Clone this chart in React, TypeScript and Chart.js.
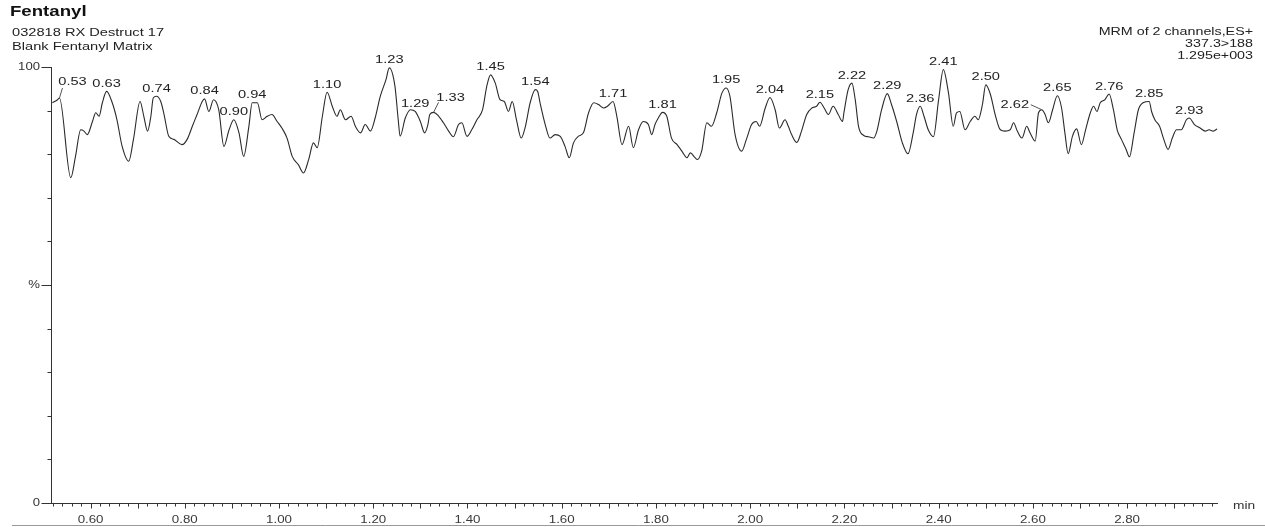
import { useEffect, useRef } from "react";
import { Chart, registerables } from "chart.js";

Chart.register(...registerables);

// Retention time (min) of each sampled point of the MRM trace
const retentionTimes: number[] = [
  0.519, 0.530, 0.534, 0.558, 0.568, 0.579, 0.586, 0.593, 0.604, 0.611, 0.618, 0.625, 0.634, 0.646, 0.656, 0.667,
  0.681, 0.691, 0.705, 0.713, 0.721, 0.728, 0.733, 0.740, 0.749, 0.756, 0.766, 0.777, 0.794, 0.805, 0.816, 0.826,
  0.837, 0.842, 0.851, 0.861, 0.872, 0.883, 0.894, 0.904, 0.915, 0.925, 0.936, 0.943, 0.954, 0.964, 0.975, 0.985,
  0.996, 1.006, 1.017, 1.028, 1.041, 1.052, 1.063, 1.073, 1.081, 1.092, 1.102, 1.113, 1.123, 1.130, 1.141, 1.153,
  1.162, 1.173, 1.183, 1.194, 1.204, 1.215, 1.227, 1.234, 1.246, 1.253, 1.257, 1.268, 1.279, 1.289, 1.300, 1.309,
  1.316, 1.320, 1.328, 1.339, 1.349, 1.360, 1.370, 1.381, 1.388, 1.399, 1.409, 1.420, 1.432, 1.441, 1.449, 1.459,
  1.469, 1.478, 1.487, 1.495, 1.504, 1.514, 1.523, 1.533, 1.544, 1.549, 1.554, 1.565, 1.575, 1.586, 1.597, 1.607,
  1.616, 1.625, 1.635, 1.646, 1.657, 1.668, 1.678, 1.689, 1.697, 1.709, 1.717, 1.728, 1.742, 1.752, 1.763, 1.773,
  1.784, 1.791, 1.798, 1.805, 1.814, 1.823, 1.833, 1.845, 1.855, 1.866, 1.873, 1.883, 1.888, 1.897, 1.908, 1.918,
  1.929, 1.940, 1.949, 1.957, 1.968, 1.982, 1.992, 2.003, 2.013, 2.020, 2.032, 2.042, 2.053, 2.062, 2.074, 2.081,
  2.088, 2.099, 2.109, 2.120, 2.131, 2.141, 2.148, 2.157, 2.166, 2.176, 2.187, 2.196, 2.199, 2.208, 2.216, 2.223,
  2.230, 2.241, 2.251, 2.262, 2.269, 2.279, 2.291, 2.300, 2.311, 2.323, 2.335, 2.346, 2.353, 2.361, 2.369, 2.378,
  2.389, 2.400, 2.410, 2.421, 2.431, 2.438, 2.445, 2.456, 2.467, 2.477, 2.484, 2.493, 2.500, 2.510, 2.520, 2.531,
  2.541, 2.552, 2.559, 2.567, 2.577, 2.587, 2.594, 2.605, 2.612, 2.619, 2.626, 2.633, 2.642, 2.652, 2.661, 2.668,
  2.675, 2.684, 2.693, 2.703, 2.712, 2.722, 2.729, 2.736, 2.743, 2.753, 2.762, 2.771, 2.779, 2.788, 2.798, 2.805,
  2.815, 2.824, 2.834, 2.847, 2.852, 2.859, 2.869, 2.878, 2.887, 2.896, 2.905, 2.915, 2.926, 2.932, 2.943, 2.955,
  2.966, 2.974, 2.983, 2.991,
];

// Relative intensity (%) at each retention time
const intensityPct: number[] = [
  91.8, 92.5, 92.9, 74.6, 79.5, 85.6, 85.3, 84.5, 87.5, 89.5, 88.7, 91.8, 94.4, 91.8, 87.9, 81.8,
  78.4, 83.4, 92.1, 88.7, 85.3, 88.7, 92.9, 93.3, 92.1, 89.1, 84.1, 83.4, 82.2, 83.4, 86.4, 89.1,
  92.1, 92.7, 89.8, 92.5, 90.2, 81.8, 85.6, 87.9, 84.9, 79.5, 86.4, 91.8, 91.8, 87.9, 88.7, 89.1,
  87.5, 86.0, 83.7, 79.5, 77.6, 75.7, 78.8, 82.6, 81.5, 88.7, 94.2, 91.0, 88.7, 90.2, 87.9, 88.7,
  86.4, 84.9, 86.8, 85.3, 88.3, 93.3, 97.1, 99.8, 95.6, 87.9, 84.1, 88.3, 90.2, 89.8, 87.5, 84.9,
  86.8, 89.1, 89.6, 88.7, 87.2, 85.3, 84.0, 86.8, 87.2, 84.1, 85.6, 87.9, 90.2, 95.6, 98.2, 96.3,
  92.5, 92.1, 89.8, 92.1, 87.9, 83.7, 86.4, 91.8, 94.8, 94.4, 91.8, 86.8, 83.7, 84.5, 84.1, 81.8,
  79.2, 82.6, 84.1, 84.9, 89.5, 91.8, 91.4, 90.6, 91.0, 92.1, 88.7, 82.2, 86.4, 81.5, 85.6, 87.5,
  86.8, 84.5, 86.8, 88.3, 89.6, 88.7, 83.7, 82.2, 80.7, 79.2, 80.3, 79.2, 78.8, 80.7, 87.2, 86.4,
  89.5, 94.0, 95.2, 93.3, 84.5, 80.7, 83.4, 86.8, 87.5, 86.4, 90.6, 93.0, 90.2, 86.0, 87.9, 86.4,
  84.5, 82.7, 85.3, 89.1, 90.6, 91.0, 91.9, 90.6, 89.1, 91.0, 89.1, 87.5, 89.5, 94.8, 96.3, 92.5,
  86.4, 84.3, 84.0, 83.7, 85.3, 90.2, 93.9, 91.4, 87.5, 82.6, 80.1, 84.9, 89.1, 91.0, 88.7, 85.6,
  84.0, 92.5, 99.4, 94.0, 86.4, 89.5, 89.8, 85.6, 87.5, 88.7, 87.9, 91.4, 95.9, 93.7, 89.1, 85.6,
  85.3, 85.6, 87.2, 85.3, 83.7, 86.4, 84.9, 83.0, 89.5, 90.2, 89.1, 87.2, 90.2, 93.4, 90.6, 84.9,
  80.1, 84.1, 85.8, 82.2, 85.6, 89.5, 91.0, 89.8, 91.8, 92.5, 93.8, 90.2, 85.6, 83.4, 81.1, 79.4,
  84.9, 90.2, 91.8, 92.1, 89.8, 87.9, 86.4, 83.4, 81.1, 83.7, 85.6, 85.6, 87.9, 88.3, 86.8, 86.0,
  85.3, 85.6, 85.3, 85.8,
];

// Apex retention times written above the peaks
const peakLabels: string[] = [
  "0.53", "0.63", "0.74", "0.84", "0.90", "0.94", "1.10", "1.23", "1.29", "1.33", "1.45", "1.54", "1.71", "1.81",
  "1.95", "2.04", "2.15", "2.22", "2.29", "2.36", "2.41", "2.50", "2.62", "2.65", "2.76", "2.85", "2.93",
];

// Labelled x ticks (min)
const xTickLabels: string[] = [
  "0.60", "0.80", "1.00", "1.20", "1.40", "1.60", "1.80", "2.00", "2.20", "2.40", "2.60", "2.80",
];

// Labelled y ticks
const yTickValues: number[] = [0, 50, 100];
const yTickLabels: string[] = ["0", "%", "100"];

const titleLines: string[] = ["Fentanyl", "032818 RX Destruct 17", "Blank Fentanyl Matrix"];
const infoLines: string[] = ["MRM of 2 channels,ES+", "337.3>188", "1.295e+003"];

// Peak labels that sit off to one side with a short leader line
const calloutOffsets: Record<string, { dx: number; dy: number; lx: number; ly: number }> = {
  "0.53": { dx: 13, dy: -8, lx: 3, ly: -10 },
  "1.33": { dx: 17, dy: -7, lx: 5, ly: -10 },
  "2.62": { dx: -27, dy: 3, lx: -11, ly: -5 },
};

const FONT = "'Liberation Sans', Arial, sans-serif";
const SX = 1.33;

function stretchText(
  ctx: CanvasRenderingContext2D,
  text: string,
  x: number,
  y: number,
  font: string,
  align: CanvasTextAlign,
  color: string,
  baseline: CanvasTextBaseline = "alphabetic",
  sx = SX
) {
  ctx.save();
  ctx.font = font;
  ctx.fillStyle = color;
  ctx.textAlign = align;
  ctx.textBaseline = baseline;
  ctx.translate(x, y);
  ctx.scale(sx, 1);
  ctx.fillText(text, 0, 0);
  ctx.restore();
}

function apexIndex(label: string): number {
  const t = parseFloat(label);
  let best = -1;
  for (let i = 0; i < retentionTimes.length; i++) {
    if (Math.abs(retentionTimes[i] - t) <= 0.0065) {
      if (best < 0 || intensityPct[i] > intensityPct[best]) best = i;
    }
  }
  if (best < 0) {
    let d = Infinity;
    retentionTimes.forEach((rt, i) => {
      if (Math.abs(rt - t) < d) {
        d = Math.abs(rt - t);
        best = i;
      }
    });
  }
  return best;
}

const chromatogramDecor = {
  id: "chromatogramDecor",
  afterDatasetsDraw(chart: any) {
    const ctx: CanvasRenderingContext2D = chart.ctx;
    const xs = chart.scales.x;
    const ys = chart.scales.y;
    const { left, right, top, bottom } = chart.chartArea;

    ctx.save();
    ctx.strokeStyle = "#333";
    ctx.lineWidth = 1;

    // y axis
    ctx.beginPath();
    ctx.moveTo(left + 0.5, top);
    ctx.lineTo(left + 0.5, bottom);
    ctx.stroke();
    for (let v = 0; v <= 100; v += 10) {
      const py = Math.round(ys.getPixelForValue(v)) + 0.5;
      const len = v % 50 === 0 ? 10 : 4;
      ctx.beginPath();
      ctx.moveTo(left + 0.5 - len, py);
      ctx.lineTo(left + 1, py);
      ctx.stroke();
    }
    yTickValues.forEach((v, i) => {
      stretchText(ctx, yTickLabels[i], left - 11, ys.getPixelForValue(v) + 0.5, `10.5px ${FONT}`, "right", "#333", "middle", 1.25);
    });

    // x axis
    ctx.beginPath();
    ctx.moveTo(left, bottom + 0.5);
    ctx.lineTo(right, bottom + 0.5);
    ctx.stroke();
    const kStart = Math.ceil(xs.min / 0.02 - 1e-6);
    const kEnd = Math.floor(xs.max / 0.02 + 1e-6);
    for (let k = kStart; k <= kEnd; k++) {
      const px = Math.round(xs.getPixelForValue(k * 0.02)) + 0.5;
      const len = k % 5 === 0 ? 5 : 3;
      ctx.beginPath();
      ctx.moveTo(px, bottom);
      ctx.lineTo(px, bottom + 0.5 + len);
      ctx.stroke();
    }
    xTickLabels.forEach((lab) => {
      stretchText(ctx, lab, xs.getPixelForValue(parseFloat(lab)), bottom + 20, `10px ${FONT}`, "center", "#3a3a3a");
    });
    stretchText(ctx, "min", right + 15, bottom + 6, `11px ${FONT}`, "left", "#333", "alphabetic", 1.25);

    // peak apex labels
    peakLabels.forEach((lab) => {
      const i = apexIndex(lab);
      const px = xs.getPixelForValue(retentionTimes[i]);
      const py = ys.getPixelForValue(intensityPct[i]);
      const c = calloutOffsets[lab];
      if (c) {
        ctx.beginPath();
        ctx.strokeStyle = "#555";
        ctx.moveTo(px, py);
        ctx.lineTo(px + c.lx, py + c.ly);
        ctx.stroke();
      }
      const lx = px + (c ? c.dx : 0);
      const ly = py - 7.5 + (c ? c.dy : 0);
      stretchText(ctx, lab, lx, ly, `11px ${FONT}`, "center", "#222", "middle");
    });

    // header text
    stretchText(ctx, titleLines[0], 10, 16, `bold 14px ${FONT}`, "left", "#111", "alphabetic", 1.33);
    stretchText(ctx, titleLines[1], 12, 36, `11px ${FONT}`, "left", "#222");
    stretchText(ctx, titleLines[2], 12, 49.5, `11px ${FONT}`, "left", "#222");
    stretchText(ctx, infoLines[0], 1253, 35, `10.5px ${FONT}`, "right", "#222", "alphabetic", 1.36);
    stretchText(ctx, infoLines[1], 1253, 47, `10.5px ${FONT}`, "right", "#222", "alphabetic", 1.36);
    stretchText(ctx, infoLines[2], 1253, 58.5, `10.5px ${FONT}`, "right", "#222", "alphabetic", 1.36);

    // lower edge rule
    ctx.strokeStyle = "#9a9a9a";
    ctx.beginPath();
    ctx.moveTo(12, 525.5);
    ctx.lineTo(1265, 525.5);
    ctx.stroke();
    ctx.restore();
  },
};

export default function App() {
  const canvasRef = useRef<HTMLCanvasElement | null>(null);

  useEffect(() => {
    const canvas = canvasRef.current;
    if (!canvas) return;
    const n = Math.min(retentionTimes.length, intensityPct.length);
    const points = [];
    for (let i = 0; i < n; i++) points.push({ x: retentionTimes[i], y: intensityPct[i] });

    const chart = new Chart(canvas, {
      type: "line",
      data: {
        datasets: [
          {
            data: points,
            borderColor: "#2a2a2a",
            borderWidth: 1.1,
            pointRadius: 0,
            fill: false,
            cubicInterpolationMode: "monotone",
          },
        ],
      },
      options: {
        responsive: false,
        animation: false,
        devicePixelRatio: 1,
        events: [],
        layout: { padding: { left: 51, top: 67, right: 47, bottom: 24 } },
        plugins: { legend: { display: false }, tooltip: { enabled: false }, title: { display: false } },
        scales: {
          x: { type: "linear", min: 0.516, max: 2.993, display: false },
          y: { type: "linear", min: 0, max: 100, display: false },
        },
      },
      plugins: [chromatogramDecor],
    });
    return () => chart.destroy();
  }, []);

  return (
    <div style={{ position: "absolute", left: 0, top: 0, width: 1265, height: 527, background: "#fff" }}>
      <canvas ref={canvasRef} width={1265} height={527} />
    </div>
  );
}
